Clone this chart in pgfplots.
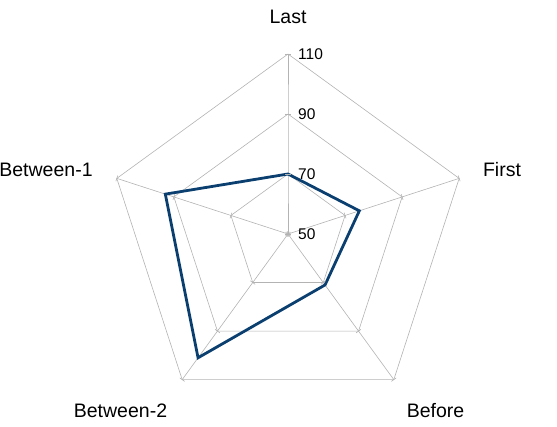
\documentclass[border=0pt]{standalone}
\usepackage{fontspec}
\setmainfont{Liberation Sans}
\usepackage{pgfplots}
\pgfplotsset{compat=1.18}
\usepgfplotslibrary{polar}
\definecolor{gridgray}{HTML}{B3B3B3}
\definecolor{series}{HTML}{0A3F70}

\begin{document}
\begin{tikzpicture}[x=1pt,y=1pt]
\begin{polaraxis}[
    at={(288pt,192pt)}, anchor=center,
    scale only axis, width=360pt, height=360pt,
    xmin=0, xmax=360, ymin=0, ymax=60,
    hide axis, clip=false,
    y filter/.expression={y-50},
]
% rings at 70, 90, 110
\addplot[gridgray, line width=0.6pt, mark=none] coordinates {(90,70)(18,70)(306,70)(234,70)(162,70)(90,70)};
\addplot[gridgray, line width=0.6pt, mark=none] coordinates {(90,90)(18,90)(306,90)(234,90)(162,90)(90,90)};
\addplot[gridgray, line width=0.6pt, mark=none] coordinates {(90,110)(18,110)(306,110)(234,110)(162,110)(90,110)};
% spokes with small ticks
\addplot[gridgray, line width=0.6pt, mark=|, mark size=3pt, mark options={rotate=90}] coordinates {(90,50)(90,70)(90,90)(90,110)};
\addplot[gridgray, line width=0.6pt, mark=|, mark size=3pt, mark options={rotate=18}] coordinates {(18,50)(18,70)(18,90)(18,110)};
\addplot[gridgray, line width=0.6pt, mark=|, mark size=3pt, mark options={rotate=306}] coordinates {(306,50)(306,70)(306,90)(306,110)};
\addplot[gridgray, line width=0.6pt, mark=|, mark size=3pt, mark options={rotate=234}] coordinates {(234,50)(234,70)(234,90)(234,110)};
\addplot[gridgray, line width=0.6pt, mark=|, mark size=3pt, mark options={rotate=162}] coordinates {(162,50)(162,70)(162,90)(162,110)};
% series: Last, First, Before, Between-2, Between-1
\addplot[series, line width=2.8pt, mark=none, line join=miter] coordinates {
    (90,70) (18,75) (306,71) (234,101) (162,93) (90,70) (18,75)
};
\end{polaraxis}

% category labels
\begin{scope}[every node/.style={inner sep=0pt, anchor=base, font=\fontsize{19.5}{22}\selectfont}]
\node at (288,402.7) {Last};
\node at (502,249.3) {First};
\node at (435.5,8.7) {Before};
\node at (120.5,8.7) {Between-2};
\node at (46,249.3) {Between-1};
\end{scope}

% radial tick labels
\begin{scope}[every node/.style={inner sep=0pt, anchor=base west, font=\fontsize{15.5}{18}\selectfont}]
\node at (298,186.7) {50};
\node at (298,246.7) {70};
\node at (298,306.7) {90};
\node at (298,366.7) {110};
\end{scope}

\pgfresetboundingbox
\useasboundingbox (0,0) rectangle (557,426);
\end{tikzpicture}
\end{document}
